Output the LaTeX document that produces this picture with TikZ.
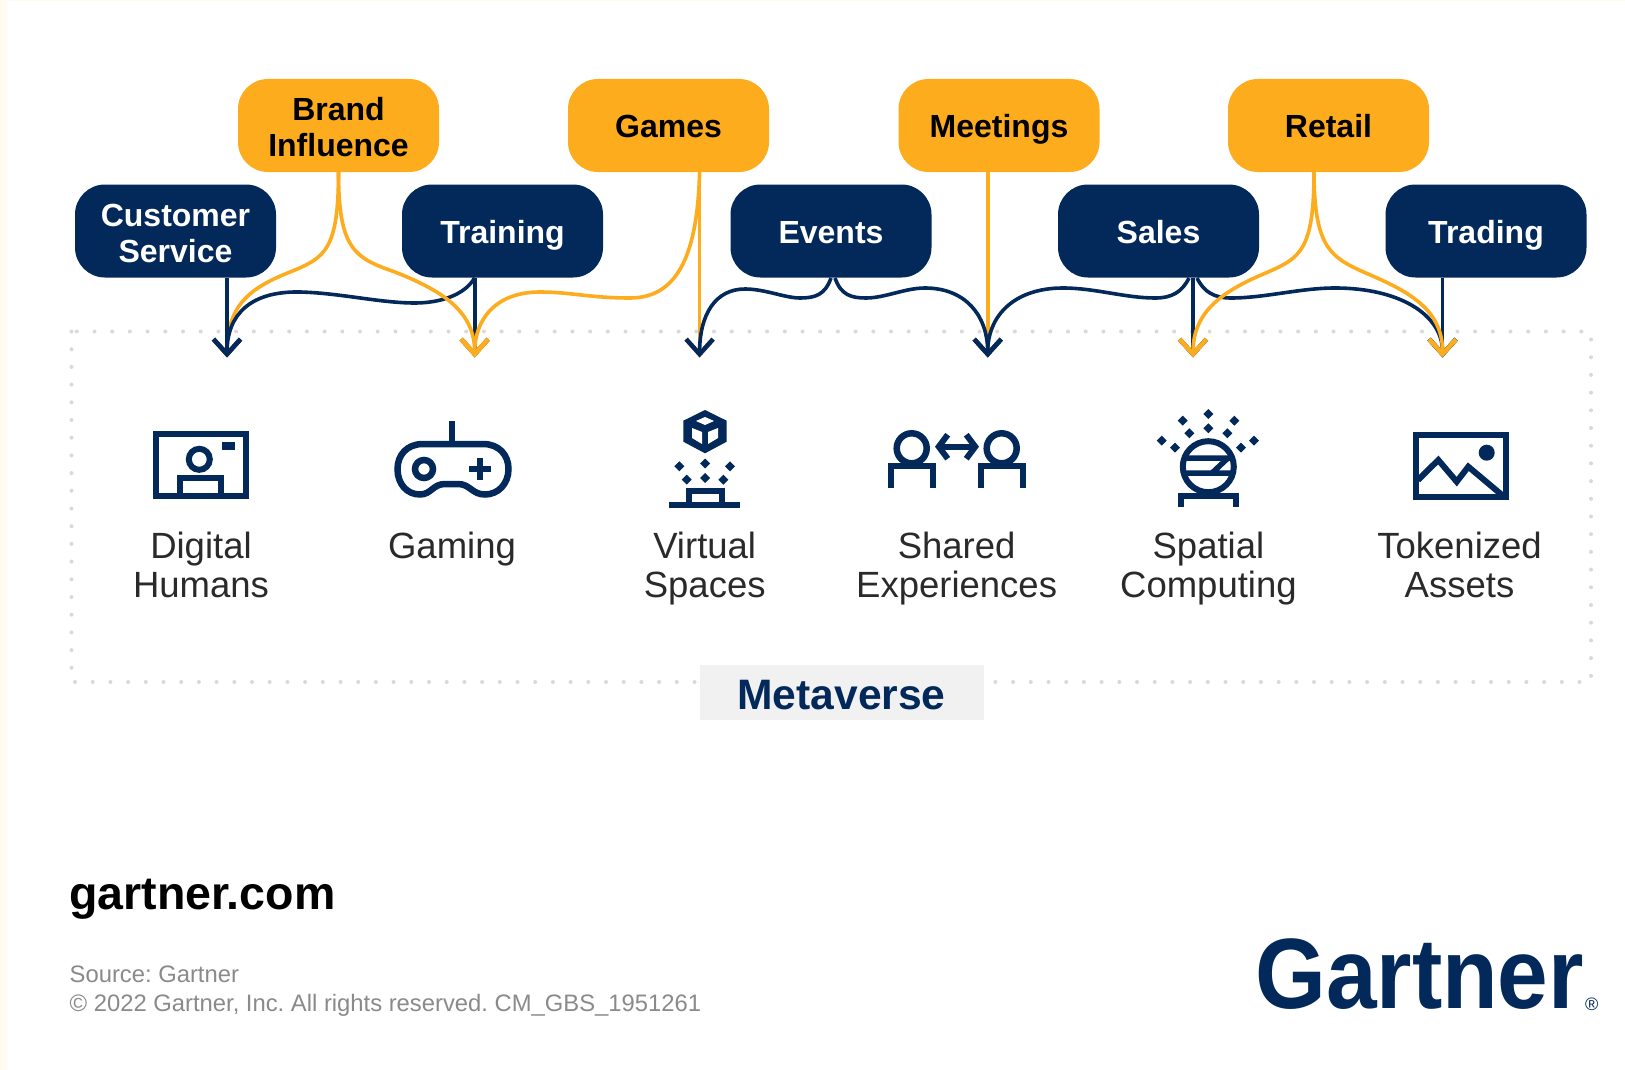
\documentclass[tikz,border=0pt]{standalone}
\usepackage{fontspec}
\setmainfont{Liberation Sans}
\usetikzlibrary{arrows.meta,calc}
\definecolor{navy}{HTML}{02295A}
\definecolor{amber}{HTML}{FDAC1E}
\definecolor{cream}{HTML}{FFFBEF}
\definecolor{dotgrey}{HTML}{D9D9DB}
\definecolor{tagbg}{HTML}{F1F1F2}
\definecolor{labelgrey}{HTML}{2A2A2A}
\definecolor{notegrey}{HTML}{8A8A8A}
\tikzset{
  pill/.style={rectangle,rounded corners=30pt,minimum width=201pt,minimum height=93pt,inner sep=0pt,align=center,font=\fontsize{32}{36}\selectfont\bfseries,text height=25pt,text depth=0pt},
  pilltwo/.style={text height=63pt,text depth=0pt},
  pillorange/.style={pill,fill=amber,text=black},
  pillblue/.style={pill,fill=navy,text=white},
  conn/.style={line width=3.6pt,-{Straight Barb[length=15pt,width=27pt,line width=4.5pt]}},
  connblue/.style={conn,draw=navy},
  connorange/.style={conn,draw=amber},
  iconlabel/.style={align=center,text=labelgrey,font=\fontsize{36.5}{38.5}\selectfont,text height=64.6pt,text depth=0pt},
  iconlabelone/.style={text height=24pt,text depth=0pt},
  ico/.style={draw=navy,line width=6pt,fill=none},
}
\newcommand{\gem}[2]{\fill[navy] (#1-5,#2) -- (#1,#2-5) -- (#1+5,#2) -- (#1,#2+5) -- cycle;}
\begin{document}
\frenchspacing
\begin{tikzpicture}[x=1pt,y=-1pt]
\useasboundingbox (0,0) rectangle (1625,1070);
\fill[white] (0,0) rectangle (1625,1070);
\fill[cream] (0,0) rectangle (7,1070);
\fill[cream] (0,0) rectangle (1625,1);

% frame
\draw[dotgrey,line width=4pt,line cap=round,dash pattern=on 0pt off 17.7pt] (71.5,331.5) rectangle (1591,682);
\node[rectangle,fill=tagbg,minimum width=284pt,minimum height=55pt,inner sep=0pt,text=navy,font=\fontsize{42.6}{46}\selectfont\bfseries,text height=35.5pt,text depth=0pt] (tag) at (841.5,692) {Metaverse};

% tips
\coordinate (tipA) at (227,357.5);
\coordinate (tipB) at (474.7,357.5);
\coordinate (tipC) at (699.6,357.5);
\coordinate (tipD) at (987.7,357.5);
\coordinate (tipE) at (1193,357.5);
\coordinate (tipF) at (1442.6,357.5);

% boxes
\node[pillorange,pilltwo] (brand) at (338.5,125.5) {Brand\\Influence};
\node[pillorange] (games) at (668.5,125.5) {Games};
\node[pillorange] (meet) at (999,125.5) {Meetings};
\node[pillorange] (retail) at (1328.5,125.5) {Retail};
\node[pillblue,pilltwo] (cust) at (175.5,231) {Customer\\Service};
\node[pillblue] (train) at (502.5,231) {Training};
\node[pillblue] (events) at (831,231) {Events};
\node[pillblue] (sales) at (1158.5,231) {Sales};
\node[pillblue] (trading) at (1486,231) {Trading};

% orange connectors under navy
\draw[connorange] (brand.south) .. controls (338.5,250) and (325,258) .. (290,272) .. controls (250,288) and (227,305) .. (tipA);
\draw[connorange] (tipC |- games.south) -- (tipC);
\draw[connorange] (tipD |- meet.south) -- (tipD);

% navy connectors
\draw[connblue] (tipA |- cust.south) -- (tipA);
\draw[connblue] (tipB |- train.south) .. controls (465,295) and (440,303) .. (415,303) .. controls (380,303) and (340,293) .. (300,292) .. controls (250,291) and (227,315) .. (tipA);
\draw[connblue] (tipB |- train.south) -- (tipB);
\draw[connblue] (831,278) .. controls (825,295) and (815,298) .. (800,298) .. controls (785,298) and (765,289) .. (745,289) .. controls (715,289) and (699.6,315) .. (tipC);
\draw[connblue] (835,278) .. controls (841,295) and (851,298) .. (866,298) .. controls (885,298) and (905,288) .. (925,288) .. controls (965,288) and (987.7,315) .. (tipD);
\draw[connblue] (1189,278) .. controls (1182,292) and (1172,298) .. (1155,298) .. controls (1125,298) and (1095,288) .. (1063,288) .. controls (1015,288) and (987.7,315) .. (tipD);
\draw[connblue] (tipE |- sales.south) -- (tipE);
\draw[connblue] (1197,278) .. controls (1204,292) and (1214,298) .. (1231,298) .. controls (1265,298) and (1300,288) .. (1335,288) .. controls (1400,288) and (1442.6,315) .. (tipF);
\draw[connblue] (tipF |- trading.south) -- (tipF);

% orange connectors over navy
\draw[connorange] (brand.south) .. controls (338.5,250) and (355,258) .. (395,272) .. controls (440,290) and (474.7,310) .. (tipB);
\draw[connorange] (tipC |- games.south) .. controls (697.5,250) and (680,298) .. (630,298) .. controls (590,298) and (570,292) .. (540,292) .. controls (495,292) and (474.7,320) .. (tipB);
\draw[connorange] (1314,172) .. controls (1314,250) and (1300,258) .. (1268,272) .. controls (1225,290) and (1193,310) .. (tipE);
\draw[connorange] (1314,172) .. controls (1314,250) and (1332,258) .. (1368,274) .. controls (1410,292) and (1442.6,310) .. (tipF);

% Digital Humans icon
\draw[ico] (155.5,433.5) rectangle (246,496);
\draw[ico] (199.3,459.3) circle (10.5);
\draw[ico] (179.5,496) -- (179.5,477.5) -- (220.5,477.5) -- (220.5,496);
\fill[navy] (221.7,441.7) rectangle (235,450);
\node[iconlabel] (lab1) at (201,565) {Digital\\Humans};

% Gaming icon
\draw[ico] (451.7,421) -- (451.7,444);
\draw[ico,line width=6.5pt] (423,444) -- (483,444) .. controls (499,444) and (508.5,455) .. (508.5,469) .. controls (508.5,484) and (498,494.5) .. (485,494.5) .. controls (472,494.5) and (470,484) .. (458,484) -- (445,484) .. controls (433,484) and (431,494.5) .. (420,494.5) .. controls (407,494.5) and (397.5,484) .. (397.5,469) .. controls (397.5,455) and (407,444) .. (423,444) -- cycle;
\draw[ico,line width=6.5pt] (424,469) circle (9);
\draw[ico] (469,469) -- (491,469) (480,458) -- (480,480);
\node[iconlabel,iconlabelone] (lab2) at (452,546) {Gaming};

% Virtual Spaces icon
\fill[navy] (705,410) -- (726.7,420.7) -- (726.7,441.7) -- (705,453.3) -- (683.3,441.7) -- (683.3,420.7) -- cycle;
\fill[white] (705,417) -- (714,421) -- (705,425) -- (696,421) -- cycle;
\fill[white] (692,428) -- (702,432) -- (702,444) -- (692,438) -- cycle;
\fill[white] (718,428) -- (708,432) -- (708,444) -- (718,438) -- cycle;
\gem{705}{463.5}\gem{679.3}{466.3}\gem{730}{466.3}\gem{705}{478}\gem{686.7}{479.7}\gem{723.3}{479.7}
\draw[ico] (688.5,503) -- (688.5,490.5) -- (722,490.5) -- (722,503);
\draw[ico,line width=6pt] (668.5,505) -- (740,505);
\node[iconlabel] (lab3) at (704.7,565) {Virtual\\Spaces};

% Shared Experiences icon
\draw[ico,line width=6.5pt] (911.7,448.3) circle (15);
\draw[ico] (891,487.5) -- (891,465.5) -- (932.5,465.5) -- (932.5,487.5);
\draw[ico,line width=6.5pt] (1001.7,448.3) circle (15);
\draw[ico] (981,487.5) -- (981,465.5) -- (1022.5,465.5) -- (1022.5,487.5);
\draw[ico,{Straight Barb[length=9pt,width=24pt,line width=6pt]}-{Straight Barb[length=9pt,width=24pt,line width=6pt]}] (935,446.7) -- (979,446.7);
\node[iconlabel] (lab4) at (956.6,565) {Shared\\Experiences};

% Spatial Computing icon
\draw[ico] (1208.3,466.7) circle (25.5);
\draw[ico,line width=5.5pt] (1184,458) -- (1232,458) (1184,473) -- (1232,473) (1212,473) -- (1228,458);
\draw[ico] (1181,507) -- (1181,496) -- (1236,496) -- (1236,507);
\gem{1208.3}{414}\gem{1208.3}{428.3}\gem{1182.7}{420.7}\gem{1189.3}{433.3}\gem{1234.3}{420.7}\gem{1227.3}{433.3}\gem{1161.7}{440.7}\gem{1175}{447.7}\gem{1254}{440.7}\gem{1241}{447.7}
\node[iconlabel] (lab5) at (1208.4,565) {Spatial\\Computing};

% Tokenized Assets icon
\draw[ico] (1416,434.5) rectangle (1506,496.5);
\fill[navy] (1486.7,452.7) circle (8);
\draw[ico,line join=miter] (1418,480) -- (1438.3,460) -- (1456.7,481.7) -- (1468.3,466.7) -- (1504,496.7);
\node[iconlabel] (lab6) at (1459.5,565) {Tokenized\\Assets};

% footer
\node[anchor=base west,inner sep=0pt,text=black,font=\fontsize{46.5}{50}\selectfont\bfseries] (site) at (69,909) {gartner.com};
\node[anchor=base west,inner sep=0pt,text=notegrey,font=\fontsize{23.8}{26}\selectfont] (src) at (69.5,982) {Source: Gartner};
\node[anchor=base west,inner sep=0pt,text=notegrey,font=\fontsize{23.8}{26}\selectfont] (copy) at (69.5,1011) {© 2022 Gartner, Inc. All rights reserved. CM\_GBS\_1951261};
\node[anchor=base west,inner sep=0pt,text=navy,font=\fontsize{100}{100}\selectfont\bfseries] (logo) at (1255,1008) {\scalebox{0.91}[1]{Gartner}};
\node[anchor=base west,inner sep=0pt,text=navy,font=\fontsize{18}{18}\selectfont] (reg) at (1585,1010) {®};
\end{tikzpicture}
\end{document}
